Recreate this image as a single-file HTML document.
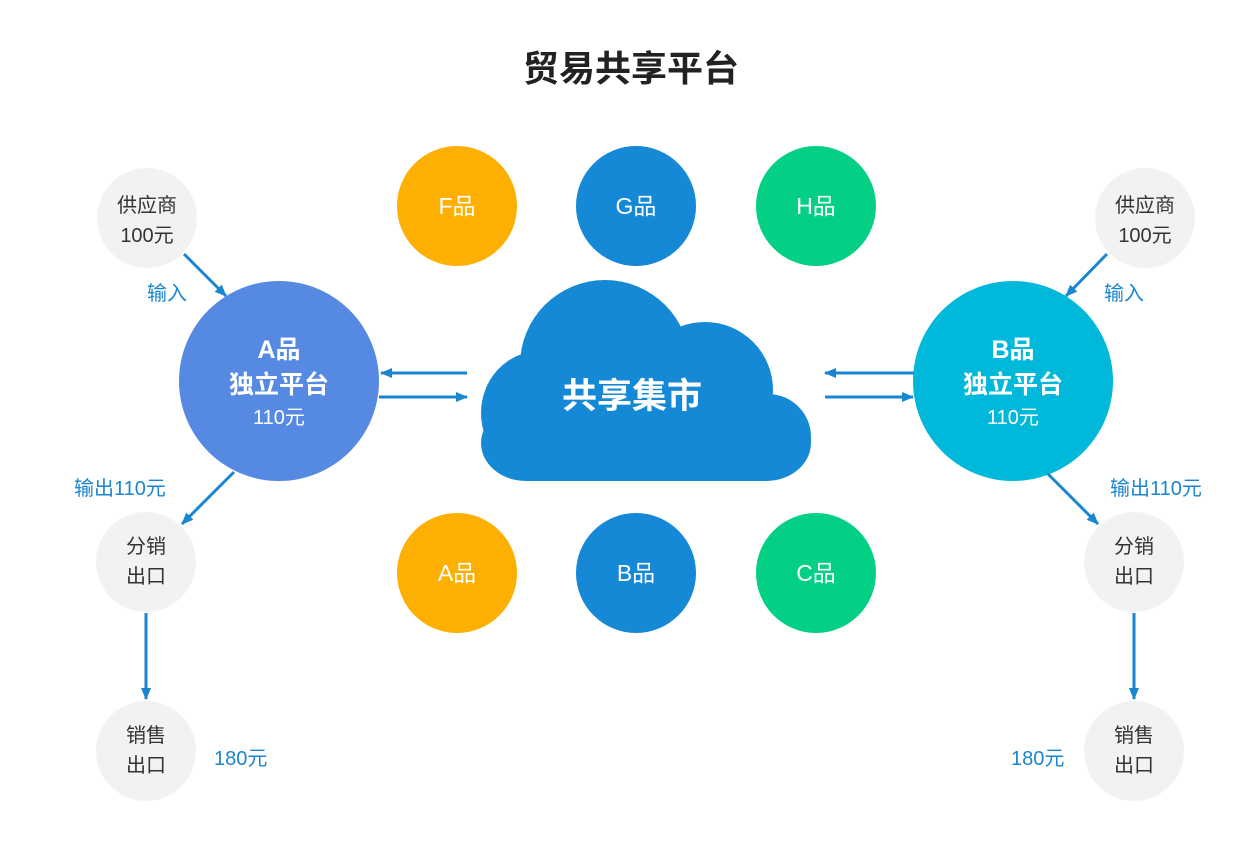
<!DOCTYPE html>
<html><head><meta charset="utf-8"><style>
body{margin:0;background:#fff}
svg text{font-family:"Liberation Sans","Noto Sans CJK SC",sans-serif}
</style></head><body>
<svg width="1254" height="861" viewBox="0 0 1254 861" xmlns="http://www.w3.org/2000/svg">
<defs><marker id="ar2" markerWidth="12" markerHeight="10" refX="11" refY="5" orient="auto" markerUnits="userSpaceOnUse"><path d="M0,0 L12,5 L0,10 z" fill="#1a86cf"/></marker></defs>
<text x="631" y="81" text-anchor="middle" font-size="36" font-weight="bold" fill="#222">贸易共享平台</text>
<g fill="#f3f2f3">
<circle cx="147" cy="218" r="50"/><circle cx="1145" cy="218" r="50"/>
<circle cx="146" cy="562" r="50"/><circle cx="146" cy="751" r="50"/>
<circle cx="1134" cy="562" r="50"/><circle cx="1134" cy="751" r="50"/>
</g>
<g font-size="20" fill="#333" text-anchor="middle">
<text x="147" y="212">供应商</text><text x="147" y="242">100元</text>
<text x="1145" y="212">供应商</text><text x="1145" y="242">100元</text>
<text x="146" y="553">分销</text><text x="146" y="583">出口</text>
<text x="146" y="742">销售</text><text x="146" y="772">出口</text>
<text x="1134" y="553">分销</text><text x="1134" y="583">出口</text>
<text x="1134" y="742">销售</text><text x="1134" y="772">出口</text>
</g>
<circle cx="279" cy="381" r="100" fill="#5589e2"/>
<circle cx="1013" cy="381" r="100" fill="#00b8d9"/>
<g fill="#fff" text-anchor="middle">
<text x="279" y="358" font-size="25" font-weight="bold">A品</text>
<text x="279" y="393" font-size="25" font-weight="bold">独立平台</text>
<text x="279" y="424" font-size="20">110元</text>
<text x="1013" y="358" font-size="25" font-weight="bold">B品</text>
<text x="1013" y="393" font-size="25" font-weight="bold">独立平台</text>
<text x="1013" y="424" font-size="20">110元</text>
</g>
<circle cx="457" cy="206" r="60" fill="#fdb002"/><circle cx="636" cy="206" r="60" fill="#1589d5"/><circle cx="816" cy="206" r="60" fill="#03d084"/>
<circle cx="457" cy="573" r="60" fill="#fdb002"/><circle cx="636" cy="573" r="60" fill="#1589d5"/><circle cx="816" cy="573" r="60" fill="#03d084"/>
<g fill="#fff" font-size="23" text-anchor="middle">
<text x="457" y="214">F品</text><text x="636" y="214">G品</text><text x="816" y="214">H品</text>
<text x="457" y="581">A品</text><text x="636" y="581">B品</text><text x="816" y="581">C品</text>
</g>
<g fill="#1589d5">
<ellipse cx="540" cy="413" rx="59" ry="62"/><circle cx="605" cy="365" r="85"/><circle cx="705" cy="390" r="68"/><circle cx="768" cy="437" r="43"/>
<rect x="481" y="405" width="330" height="76" rx="45"/>
</g>
<text x="632" y="408" fill="#fff" font-size="35" font-weight="bold" text-anchor="middle">共享集市</text>
<g stroke="#1a86cf" stroke-width="3" fill="none">
<line x1="467" y1="373" x2="381" y2="373" marker-end="url(#ar2)"/>
<line x1="379" y1="397" x2="467" y2="397" marker-end="url(#ar2)"/>
<line x1="914" y1="373" x2="825" y2="373" marker-end="url(#ar2)"/>
<line x1="825" y1="397" x2="913" y2="397" marker-end="url(#ar2)"/>
<line x1="184" y1="254" x2="226" y2="296" marker-end="url(#ar2)"/>
<line x1="1107" y1="254" x2="1066" y2="296" marker-end="url(#ar2)"/>
<line x1="234" y1="472" x2="182" y2="524" marker-end="url(#ar2)"/>
<line x1="1048" y1="474" x2="1098" y2="524" marker-end="url(#ar2)"/>
<line x1="146" y1="613" x2="146" y2="699" marker-end="url(#ar2)"/>
<line x1="1134" y1="613" x2="1134" y2="699" marker-end="url(#ar2)"/>
</g>
<g fill="#1a86cf" font-size="20">
<text x="147" y="300">输入</text><text x="1104" y="300">输入</text>
<text x="74" y="495">输出110元</text><text x="1110" y="495">输出110元</text>
<text x="214" y="765">180元</text><text x="1011" y="765">180元</text>
</g>
</svg>
</body></html>
